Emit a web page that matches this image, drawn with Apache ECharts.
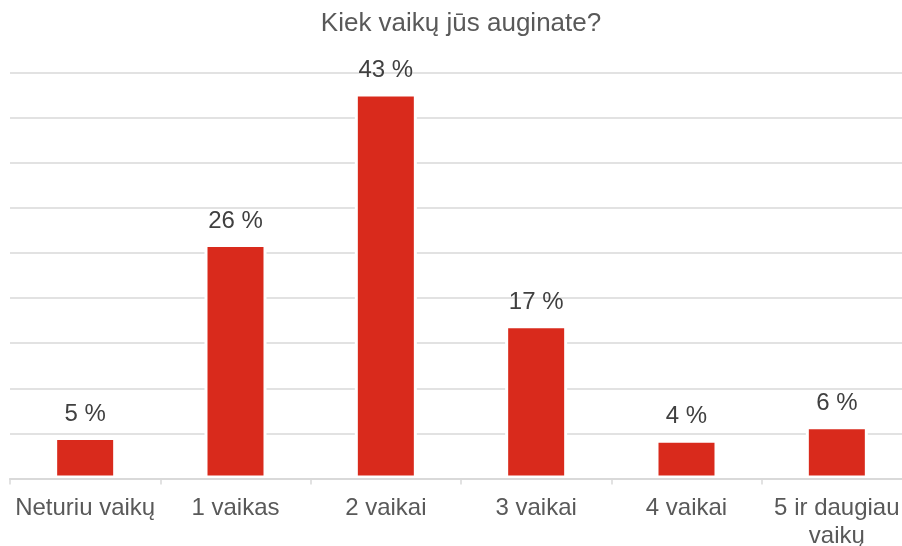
<!DOCTYPE html>
<html>
<head>
<meta charset="utf-8">
<script src="https://cdn.jsdelivr.net/npm/echarts@6/dist/echarts.min.js"></script>
<style>
  html, body { margin: 0; padding: 0; background: #fff; }
  #chart { width: 902px; height: 546px; }
</style>
</head>
<body>
<div id="chart"></div>
<script>
// categories and values
var categories = ['Neturiu vaikų', '1 vaikas', '2 vaikai', '3 vaikai', '4 vaikai', '5 ir daugiau\nvaikų']
var barValues = [4.6, 26.0, 42.7, 17.0, 4.3, 5.8]   // bar heights, %
var labelValues = [5, 26, 43, 17, 4, 6]             // printed labels, %

var chart = echarts.init(document.getElementById('chart'), null, { renderer: 'canvas' })

chart.setOption({
  backgroundColor: '#ffffff',
  animation: false,
  title: {
    text: 'Kiek vaikų jūs auginate?',
    left: 456,
    top: 6,
    textAlign: 'center',
    textStyle: {
      fontFamily: 'Liberation Sans, Arial, sans-serif',
      fontSize: 26,
      fontWeight: 'normal',
      color: '#595959'
    }
  },
  grid: {
    // the plot runs a little past the right edge of the picture
    outerBoundsMode: 'none',
    containLabel: false,
    left: 10,
    top: 72.7,
    width: 902,
    height: 405.8
  },
  xAxis: {
    type: 'category',
    data: categories,
    z: 5,
    axisLine: { lineStyle: { color: '#d9d9d9', width: 2 } },
    axisTick: { show: true, length: 6, lineStyle: { color: '#d9d9d9', width: 1.5 } },
    axisLabel: {
      interval: 0,
      margin: 16,
      fontFamily: 'Liberation Sans, Arial, sans-serif',
      fontSize: 24,
      lineHeight: 28,
      color: '#595959'
    }
  },
  yAxis: {
    type: 'value',
    min: 0,
    max: 45,
    interval: 5,
    axisLine: { show: false },
    axisTick: { show: false },
    axisLabel: { show: false },
    splitLine: { lineStyle: { color: '#d9d9d9', width: 1.5 } }
  },
  series: [
    {
      type: 'bar',
      data: barValues,
      barWidth: 62,
      itemStyle: {
        color: '#d92a1c',
        borderColor: '#ffffff',
        borderWidth: 3
      },
      label: {
        show: true,
        position: 'top',
        distance: 11,
        fontFamily: 'Liberation Sans, Arial, sans-serif',
        fontSize: 24,
        color: '#404040',
        formatter: function (p) {
          return labelValues[p.dataIndex] + ' %'
        }
      }
    }
  ]
})
</script>
</body>
</html>
